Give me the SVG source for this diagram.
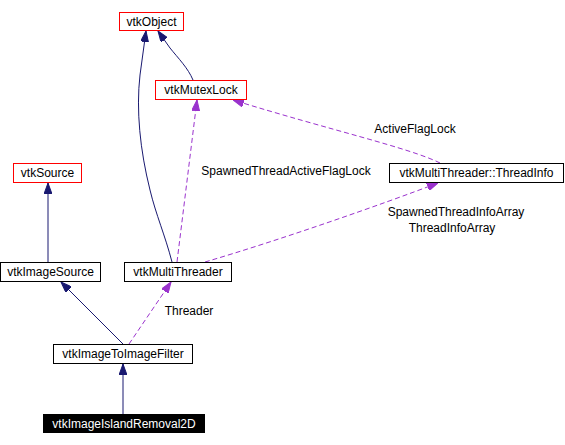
<svg xmlns="http://www.w3.org/2000/svg" width="565" height="445" viewBox="0 0 565 445">
<style>
.n rect{fill:#fff;stroke:#000;stroke-width:1}
.n.r rect{stroke:#f00}
.n.k rect{fill:#000}
text{font-family:"Liberation Sans",Arial,sans-serif;font-size:12px;text-anchor:middle;fill:#000}
.n.k text{fill:#fff}
.e{fill:none;stroke-width:1}
.s{stroke:#191970;marker-end:url(#ah)}
.d{stroke:#9a32cd;stroke-dasharray:5,3;marker-end:url(#ap)}
</style>
<defs>
<marker id="ah" viewBox="0 0 11 8" refX="11" refY="4" markerWidth="11" markerHeight="8" markerUnits="userSpaceOnUse" orient="auto"><path d="M0,0 L11,4 L0,8 z" fill="#191970" stroke="#191970" stroke-dasharray="none"/></marker>
<marker id="ap" viewBox="0 0 11 8" refX="11" refY="4" markerWidth="11" markerHeight="8" markerUnits="userSpaceOnUse" orient="auto"><path d="M0,0 L11,4 L0,8 z" fill="#9a32cd" stroke="#9a32cd" stroke-dasharray="none"/></marker>
</defs>
<rect width="565" height="445" fill="#fff"/>
<g id="edges">
<path class="e s" d="M48,262 L48,183"/>
<path class="e s" d="M123,344 L61,282"/>
<path class="e s" d="M123,414 L123,364"/>
<path class="e s" d="M172,262 C165,235 156,215 150,190 C140,150 136,110 140,75 L146,31"/>
<path class="e s" d="M193,80 C188,68 178,58 170,48 L158,31"/>
<path class="e d" d="M177,262 L197,100"/>
<path class="e d" d="M440,163 C410,148 330,130 233,100"/>
<path class="e d" d="M205,262 C280,240 380,205 438,183"/>
<path class="e d" d="M129,344 L171,282"/>
</g>
<g id="labels">
<text x="415" y="133">ActiveFlagLock</text>
<text x="286" y="175">SpawnedThreadActiveFlagLock</text>
<text x="456" y="216">SpawnedThreadInfoArray</text>
<text x="452" y="232">ThreadInfoArray</text>
<text x="189" y="315">Threader</text>
</g>
<g id="vtkObject" class="n r"><rect x="119.5" y="12.5" width="64" height="18"/><text x="151.5" y="25.5">vtkObject</text></g>
<g id="vtkMutexLock" class="n r"><rect x="155.5" y="80.5" width="91" height="19"/><text x="201" y="94">vtkMutexLock</text></g>
<g id="vtkSource" class="n r"><rect x="13.5" y="163.5" width="68" height="19"/><text x="47.5" y="177">vtkSource</text></g>
<g id="vtkMultiThreaderThreadInfo" class="n"><rect x="389.5" y="163.5" width="174" height="19"/><text x="476.5" y="177">vtkMultiThreader::ThreadInfo</text></g>
<g id="vtkImageSource" class="n"><rect x="0.5" y="262.5" width="100" height="19"/><text x="50.5" y="276">vtkImageSource</text></g>
<g id="vtkMultiThreader" class="n"><rect x="124.5" y="262.5" width="107" height="19"/><text x="178" y="276">vtkMultiThreader</text></g>
<g id="vtkImageToImageFilter" class="n"><rect x="53.5" y="344.5" width="139" height="19"/><text x="123" y="358">vtkImageToImageFilter</text></g>
<g id="vtkImageIslandRemoval2D" class="n k"><rect x="43.5" y="414.5" width="161" height="18"/><text x="124" y="427.5">vtkImageIslandRemoval2D</text></g>
</svg>
